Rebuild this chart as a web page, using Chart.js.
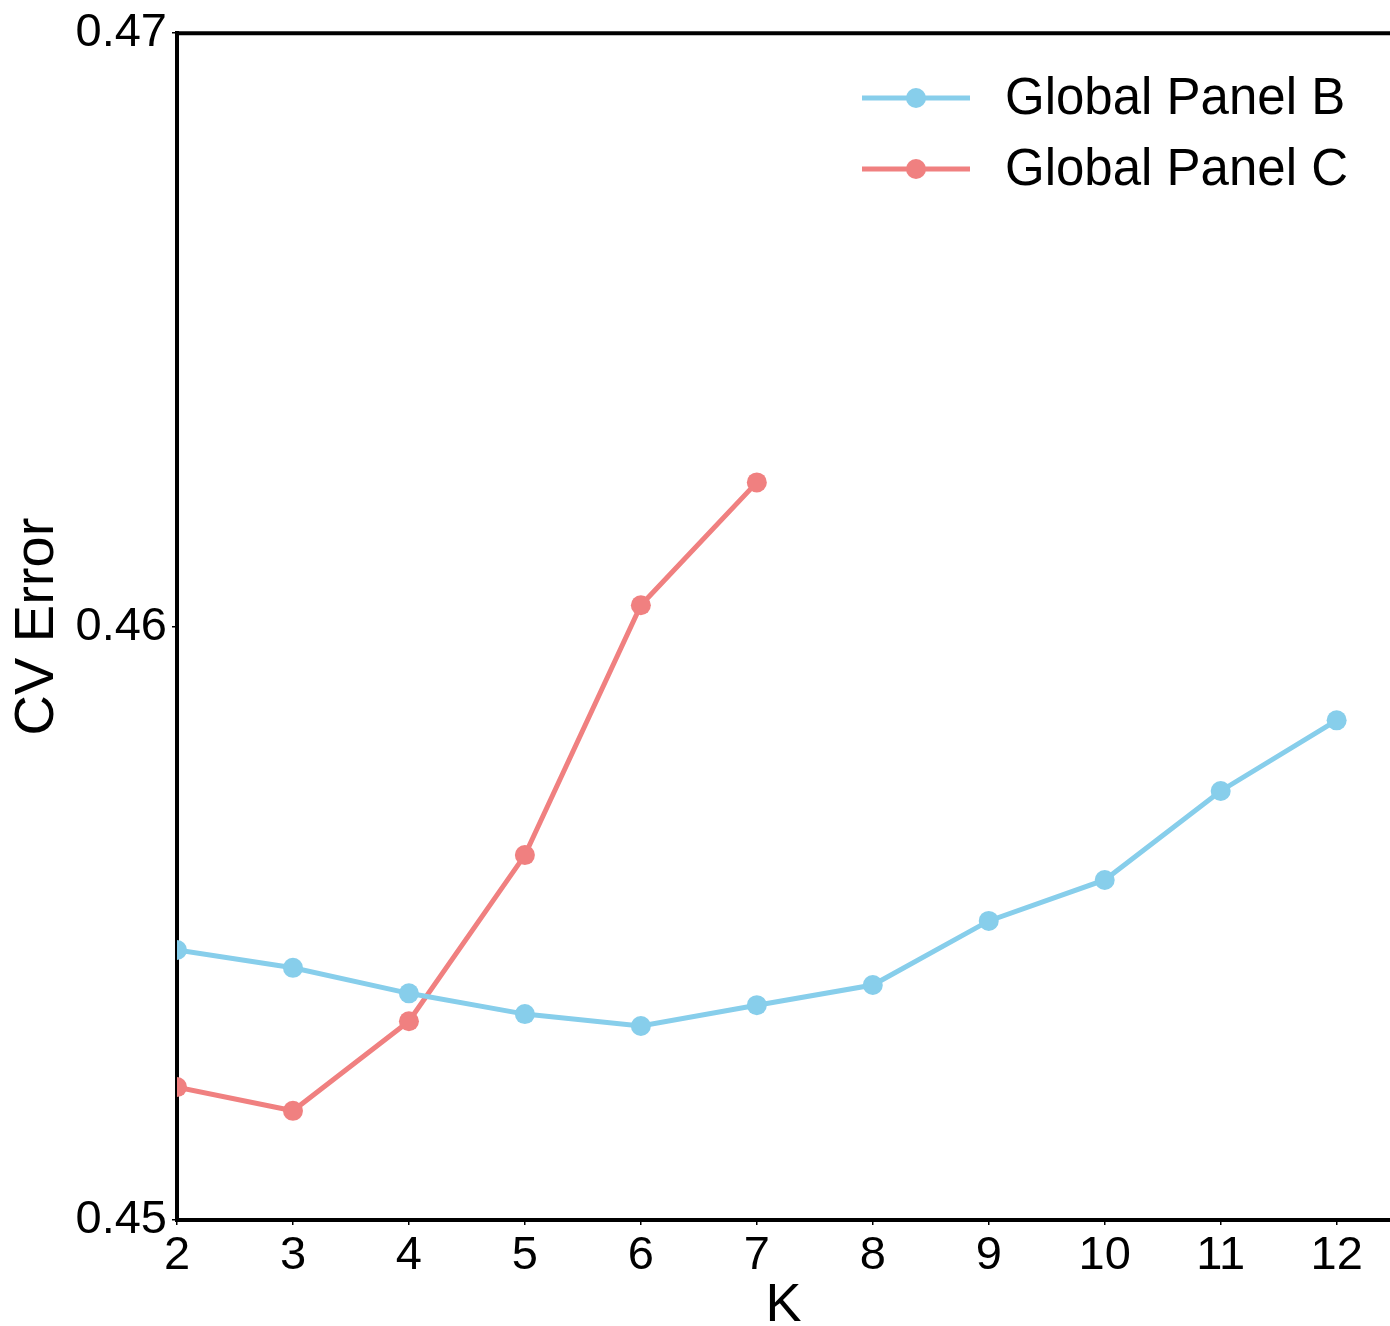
<!DOCTYPE html>
<html>
<head>
<meta charset="utf-8">
<script src="https://cdn.jsdelivr.net/npm/chart.js@4"></script>
<style>
  html, body { margin: 0; padding: 0; background: #fff; }
  #wrap { width: 1390px; height: 1326px; }
</style>
</head>
<body>
<div id="wrap"><canvas id="cvChart"></canvas></div>
<script>
// K values and CV error per panel
const kValues = [2, 3, 4, 5, 6, 7, 8, 9, 10, 11, 12];
const panelB = [0.45455, 0.45425, 0.45382, 0.45347, 0.45327, 0.45362, 0.45396, 0.45504, 0.45573, 0.45723, 0.45842];
const panelCK = [2, 3, 4, 5, 6, 7];
const panelC = [0.45224, 0.45184, 0.45335, 0.45615, 0.46036, 0.46243];
const seriesNames = ['Global Panel B', 'Global Panel C'];
const yTicks = [0.45, 0.46, 0.47];

const FONT = '"Liberation Sans", Arial, sans-serif';

function toPoints(xs, ys) {
    return xs.map((x, i) => ({ x: x, y: ys[i] }));
}

// draws the top spine and the legend box inside the plot area
const spinesAndLegend = {
    id: 'spinesAndLegend',
    afterDraw(chart) {
        const ctx = chart.ctx;
        const area = chart.chartArea;
        ctx.save();
        ctx.strokeStyle = '#000';
        ctx.lineWidth = 4;
        ctx.beginPath();
        ctx.moveTo(area.left - 2, area.top);
        ctx.lineTo(area.right, area.top);
        ctx.stroke();

        // legend
        chart.data.datasets.forEach((ds, i) => {
            let y = 98 + i * 71;
            ctx.strokeStyle = ds.borderColor;
            ctx.lineWidth = 5;
            ctx.beginPath();
            ctx.moveTo(862, y);
            ctx.lineTo(970, y);
            ctx.stroke();
            ctx.fillStyle = ds.borderColor;
            ctx.beginPath();
            ctx.arc(916, y, 10, 0, Math.PI * 2);
            ctx.fill();
            ctx.fillStyle = '#000';
            ctx.font = '51px ' + FONT;
            ctx.textBaseline = 'middle';
            ctx.textAlign = 'left';
            ctx.fillText(ds.label, 1005, y + 2);
        });
        ctx.restore();
    }
};

const config = {
    type: 'line',
    data: {
        datasets: [{
            label: seriesNames[0],
            data: toPoints(kValues, panelB),
            borderColor: '#87CEEB',
            backgroundColor: '#87CEEB',
            borderWidth: 5,
            pointRadius: 10,
            pointHoverRadius: 10,
            pointBorderWidth: 0
        }, {
            label: seriesNames[1],
            data: toPoints(panelCK, panelC),
            borderColor: '#F08080',
            backgroundColor: '#F08080',
            borderWidth: 5,
            pointRadius: 10,
            pointHoverRadius: 10,
            pointBorderWidth: 0
        }]
    },
    options: {
        responsive: true,
        maintainAspectRatio: false,
        animation: false,
        layout: {
            autoPadding: false,
            padding: { top: 33, right: 0, left: 0, bottom: 0 }
        },
        plugins: {
            legend: { display: false },
            tooltip: { enabled: false }
        },
        scales: {
            x: {
                type: 'linear',
                min: 2,
                max: 12.46,
                afterFit: (s) => {
                    s.height = 106;
                    s.paddingRight = 0;
                    s.paddingLeft = 0;
                },
                ticks: {
                    stepSize: 1,
                    includeBounds: false,
                    color: '#000',
                    padding: 3,
                    font: { family: FONT, size: 47 }
                },
                grid: {
                    drawOnChartArea: false,
                    tickLength: 5,
                    color: '#000',
                    lineWidth: 1.5
                },
                border: { display: true, color: '#000', width: 4 },
                title: {
                    display: true,
                    text: 'K',
                    color: '#000',
                    padding: { top: 0, bottom: 0 },
                    font: { family: FONT, size: 54, lineHeight: 0.75 }
                }
            },
            y: {
                min: yTicks[0],
                max: yTicks[yTicks.length - 1],
                afterFit: (s) => { s.width = 177; },
                afterBuildTicks: (s) => { s.ticks = yTicks.map(v => ({ value: v })); },
                ticks: {
                    color: '#000',
                    padding: 5,
                    font: { family: FONT, size: 47 },
                    callback: (v) => Number(v).toFixed(2)
                },
                grid: {
                    drawOnChartArea: false,
                    tickLength: 5,
                    color: '#000',
                    lineWidth: 1.5
                },
                border: { display: true, color: '#000', width: 4 },
                title: {
                    display: true,
                    text: 'CV Error',
                    color: '#000',
                    padding: { top: 4, bottom: 0 },
                    font: { family: FONT, size: 56 }
                }
            }
        }
    },
    plugins: [spinesAndLegend]
};

const cvChart = new Chart(document.getElementById('cvChart'), config);
</script>
</body>
</html>
